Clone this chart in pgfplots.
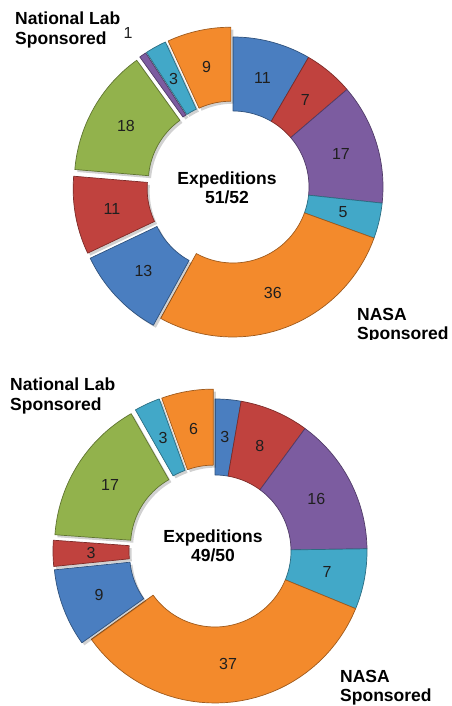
\documentclass[border=0pt]{standalone}
\usepackage{fontspec}
\setmainfont{Liberation Sans}
\usepackage{pgfplots}
\usepackage{pgfplotstable}
\pgfplotsset{compat=1.18}

\definecolor{cblue}{RGB}{74,126,192}
\definecolor{cred}{RGB}{192,66,62}
\definecolor{cpurple}{RGB}{124,92,160}
\definecolor{ccyan}{RGB}{66,168,200}
\definecolor{corange}{RGB}{243,138,44}
\definecolor{cgreen}{RGB}{146,178,76}

% value, colour, exploded (0/1), label radius
\pgfplotstableread{
v c e lr
11 cblue 0 113
7 cred 0 113
17 cpurple 0 113
5 ccyan 0 113
36 corange 0 113
13 cblue 1 113
11 cred 1 113
18 cgreen 1 113
1 cpurple 1 176
3 ccyan 1 113
9 corange 1 113
}\tabA

\pgfplotstableread{
v c e lr
3 cblue 0 114
8 cred 0 114
16 cpurple 0 114
7 ccyan 0 114
37 corange 0 114
9 cblue 1 114
3 cred 1 114
17 cgreen 1 114
3 ccyan 1 114
6 corange 1 114
}\tabB

\let\dvar\relax
\def\Ri{76}
\def\Ex{10}
\newcommand\vfont{\fontsize{16}{18}\selectfont}
\newcommand\bfont{\bfseries\fontsize{17.5}{19.5}\selectfont}

% #1 table, #2 cx, #3 cy, #4 outer radius
\newcommand\donut[4]{%
  \pgfplotstablegetrowsof{#1}%
  \pgfmathtruncatemacro\nr{\pgfplotsretval-1}%
  \gdef\tot{0}%
  \foreach \i in {0,...,\nr}{%
    \pgfplotstablegetelem{\i}{v}\of{#1}%
    \pgfmathsetmacro\tmp{\tot+\pgfplotsretval}\xdef\tot{\tmp}}%
  \gdef\cum{0}%
  \foreach \i in {0,...,\nr}{%
    \pgfplotstablegetelem{\i}{v}\of{#1}\let\sV\pgfplotsretval
    \pgfplotstablegetelem{\i}{c}\of{#1}\let\sC\pgfplotsretval
    \pgfplotstablegetelem{\i}{e}\of{#1}\let\sE\pgfplotsretval
    \pgfplotstablegetelem{\i}{lr}\of{#1}\let\sL\pgfplotsretval
    \pgfmathsetmacro\sA{90-\cum/\tot*360}%
    \pgfmathsetmacro\sB{90-(\cum+\sV)/\tot*360}%
    \pgfmathsetmacro\sD{\sB-\sA}%
    \pgfmathsetmacro\sM{(\sA+\sB)/2}%
    \pgfmathsetmacro\sOx{#2+\sE*\Ex*cos(\sM)}%
    \pgfmathsetmacro\sOy{#3+\sE*\Ex*sin(\sM)}%
    \pgfmathsetmacro\sLx{\sOx+\sL*cos(\sM)}%
    \pgfmathsetmacro\sLy{\sOy+\sL*sin(\sM)}%
    \edef\angexpr{((\dvar<40.5)*((\sA)+(\sD)*\dvar/40)+(\dvar>40.5)*((\sB)-(\sD)*(\dvar-41)/40))}%
    \edef\radexpr{((\dvar<40.5)*#4+(\dvar>40.5)*\Ri)}%
    \edef\temp{%
      \ifnum\sE=1 \noexpand\addplot[draw=none, fill=black, fill opacity=0.18,
        variable=\noexpand\dvar, samples at={0,1,...,81}]
      ({\sOx+2.5+\radexpr*cos(\angexpr)},{\sOy-2.5+\radexpr*sin(\angexpr)}) -- cycle;\fi
      \noexpand\addplot[fill=\sC, draw=\sC!65!black, line width=0.7pt, line join=round,
        variable=\noexpand\dvar, samples at={0,1,...,81}]
      ({\sOx+\radexpr*cos(\angexpr)},{\sOy+\radexpr*sin(\angexpr)}) -- cycle;
      \noexpand\node[font=\noexpand\vfont, text=black!88] at (axis cs:\sLx,\sLy) {\sV};}%
    \temp
    \pgfmathsetmacro\tmp{\cum+\sV}\xdef\cum{\tmp}%
  }}

\begin{document}
\begin{tikzpicture}
\path[use as bounding box] (0,0) rectangle (451pt,706pt);
\begin{axis}[width=451pt, height=706pt, scale only axis, at={(0,0)}, anchor=south west,
  xmin=0, xmax=451, ymin=0, ymax=706, hide axis, clip=false]
\donut{\tabA}{233}{519}{150}
\donut{\tabB}{215}{155}{152}
% texts
\node[font=\bfont, align=left, anchor=north west, inner sep=0pt] at (axis cs:15,694) {National Lab\\Sponsored};
\begin{scope}
\clip (axis cs:300,366) rectangle (axis cs:451,430);
\node[font=\bfont, align=left, anchor=north west, inner sep=0pt] at (axis cs:357,398) {NASA\\Sponsored};
\end{scope}
\node[font=\bfont, align=center] at (axis cs:227,518) {Expeditions\\51/52};
\node[font=\bfont, align=left, anchor=north west, inner sep=0pt] at (axis cs:10,328) {National Lab\\Sponsored};
\node[font=\bfont, align=left, anchor=north west, inner sep=0pt] at (axis cs:340,36) {NASA\\Sponsored};
\node[font=\bfont, align=center] at (axis cs:213,160) {Expeditions\\49/50};
\end{axis}
\end{tikzpicture}
\end{document}
